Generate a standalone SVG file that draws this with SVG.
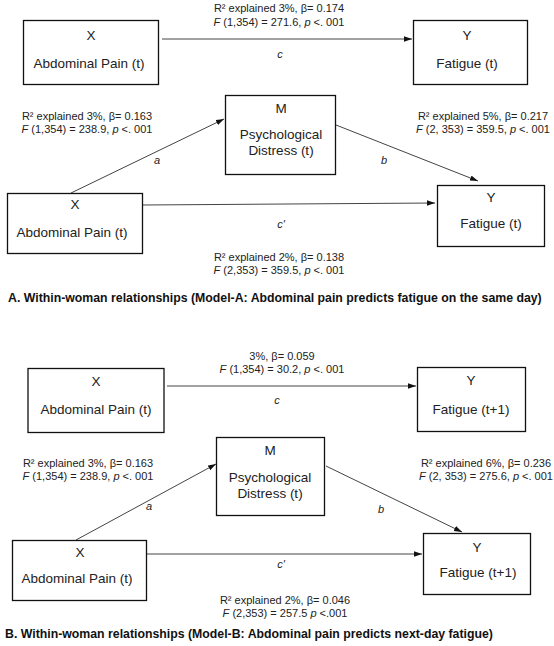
<svg xmlns="http://www.w3.org/2000/svg" width="554" height="646" viewBox="0 0 554 646">
<style>
.box{fill:#fff;stroke:#111;stroke-width:1.3}
.nt{font-family:"Liberation Sans",Arial,sans-serif;font-size:13.5px;fill:#222;text-anchor:middle}
.lb{font-family:"Liberation Sans",Arial,sans-serif;font-size:11px;fill:#222;text-anchor:middle}
.it{font-style:italic}
.cap{font-family:"Liberation Sans",Arial,sans-serif;font-size:12.3px;font-weight:bold;fill:#111}
.ln{stroke:#444;stroke-width:1;fill:none;marker-end:url(#ah)}
</style>
<defs>
<marker id="ah" markerUnits="userSpaceOnUse" markerWidth="9" markerHeight="7" refX="8" refY="3" orient="auto">
<path d="M0,0.3 L8,3 L0,5.7 z" fill="#111"/>
</marker>
</defs>
<rect width="554" height="646" fill="#fff"/>
<g id="connectors">
<line class="ln" x1="162" y1="39" x2="412" y2="39"/>
<line class="ln" x1="71" y1="193" x2="224" y2="119"/>
<line class="ln" x1="336" y1="125" x2="478" y2="181"/>
<line class="ln" x1="143" y1="205" x2="435" y2="203"/>
<line class="ln" x1="167" y1="386" x2="416" y2="386"/>
<line class="ln" x1="76" y1="540" x2="216" y2="464"/>
<line class="ln" x1="326" y1="466" x2="462" y2="532"/>
<line class="ln" x1="147" y1="554" x2="422" y2="554"/>
</g>
<g id="A_X">
<rect class="box" x="23.5" y="20.5" width="135" height="64"/>
<text class="nt" x="91" y="40">X</text>
<text class="nt" x="89" y="68">Abdominal Pain (t)</text>
</g>
<g id="A_Y">
<rect class="box" x="413.5" y="20.5" width="114" height="64"/>
<text class="nt" x="467" y="40">Y</text>
<text class="nt" x="467" y="68">Fatigue (t)</text>
</g>
<g id="A_M">
<rect class="box" x="225.5" y="95.5" width="110" height="79"/>
<text class="nt" x="281" y="113">M</text>
<text class="nt" x="281" y="139">Psychological</text>
<text class="nt" x="281" y="155">Distress (t)</text>
</g>
<g id="A_X2">
<rect class="box" x="7.5" y="193.5" width="135" height="60"/>
<text class="nt" x="75" y="209">X</text>
<text class="nt" x="72" y="237">Abdominal Pain (t)</text>
</g>
<g id="A_Y2">
<rect class="box" x="437.5" y="185.5" width="107" height="61"/>
<text class="nt" x="491" y="202">Y</text>
<text class="nt" x="491" y="228">Fatigue (t)</text>
</g>
<g id="A_labels">
<text class="lb" x="279" y="12">R² explained 3%, β= 0.174</text>
<text class="lb" x="279" y="26"><tspan class="it">F</tspan> (1,354) = 271.6, <tspan class="it">p</tspan> &lt;. 001</text>
<text class="lb it" x="280" y="58">c</text>
<text class="lb" x="87" y="120">R² explained 3%, β= 0.163</text>
<text class="lb" x="87" y="133"><tspan class="it">F</tspan> (1,354) = 238.9, <tspan class="it">p</tspan> &lt;. 001</text>
<text class="lb it" x="157" y="164">a</text>
<text class="lb" x="483" y="120">R² explained 5%, β= 0.217</text>
<text class="lb" x="483" y="133"><tspan class="it">F</tspan> (2, 353) = 359.5, <tspan class="it">p</tspan> &lt;. 001</text>
<text class="lb it" x="384" y="164">b</text>
<text class="lb it" x="281" y="228">c'</text>
<text class="lb" x="279" y="261">R² explained 2%, β= 0.138</text>
<text class="lb" x="279" y="274"><tspan class="it">F</tspan> (2,353) = 359.5, <tspan class="it">p</tspan> &lt;. 001</text>
<text class="cap" x="8" y="302">A. Within-woman relationships (Model-A: Abdominal pain predicts fatigue on the same day)</text>
</g>
<g id="B_X">
<rect class="box" x="28" y="368.5" width="136" height="64"/>
<text class="nt" x="96" y="386">X</text>
<text class="nt" x="96" y="414">Abdominal Pain (t)</text>
</g>
<g id="B_Y">
<rect class="box" x="417.5" y="367.5" width="108" height="64"/>
<text class="nt" x="471" y="385">Y</text>
<text class="nt" x="471" y="414">Fatigue (t+1)</text>
</g>
<g id="B_M">
<rect class="box" x="216.5" y="437.5" width="108" height="78"/>
<text class="nt" x="270" y="455">M</text>
<text class="nt" x="270" y="482">Psychological</text>
<text class="nt" x="270" y="498">Distress (t)</text>
</g>
<g id="B_X2">
<rect class="box" x="12.5" y="540.5" width="134" height="60"/>
<text class="nt" x="80" y="557">X</text>
<text class="nt" x="77" y="583">Abdominal Pain (t)</text>
</g>
<g id="B_Y2">
<rect class="box" x="423.5" y="533.5" width="107" height="61"/>
<text class="nt" x="477" y="552">Y</text>
<text class="nt" x="478" y="577">Fatigue (t+1)</text>
</g>
<g id="B_labels">
<text class="lb" x="282" y="360">3%, β= 0.059</text>
<text class="lb" x="282" y="373"><tspan class="it">F</tspan> (1,354) = 30.2, <tspan class="it">p</tspan> &lt;. 001</text>
<text class="lb it" x="277" y="404">c</text>
<text class="lb" x="88" y="467">R² explained 3%, β= 0.163</text>
<text class="lb" x="88" y="480"><tspan class="it">F</tspan> (1,354) = 238.9, <tspan class="it">p</tspan> &lt;. 001</text>
<text class="lb it" x="149" y="510">a</text>
<text class="lb" x="486" y="467">R² explained 6%, β= 0.236</text>
<text class="lb" x="486" y="480"><tspan class="it">F</tspan> (2, 353) = 275.6, <tspan class="it">p</tspan> &lt;. 001</text>
<text class="lb it" x="381" y="513">b</text>
<text class="lb it" x="281" y="568">c'</text>
<text class="lb" x="285" y="604">R² explained 2%, β= 0.046</text>
<text class="lb" x="285" y="617"><tspan class="it">F</tspan> (2,353) = 257.5 <tspan class="it">p</tspan> &lt;.001</text>
<text class="cap" x="5" y="638">B. Within-woman relationships (Model-B: Abdominal pain predicts next-day fatigue)</text>
</g>
</svg>
